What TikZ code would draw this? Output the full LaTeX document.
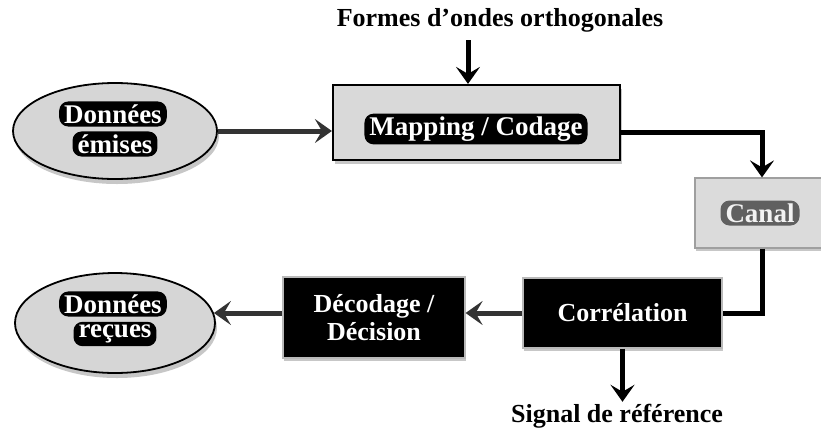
\documentclass[tikz,border=0pt]{standalone}
\usepackage{fontspec}
\setmainfont{Liberation Serif}
\usetikzlibrary{arrows.meta,shadows,shapes.geometric}
\begin{document}
\begin{tikzpicture}[x=1pt,y=-1pt,
  lbl/.style={font=\fontsize{26}{28}\selectfont\bfseries, inner sep=0pt},
  blob/.style={font=\fontsize{27}{28}\selectfont\bfseries, fill=black, text=white,
    rounded corners=9pt, inner xsep=5pt, inner ysep=3pt},
  softblob/.style={blob, fill=gray!75!black, text=gray!10},
  ell/.style={ellipse, draw=black, line width=1.8pt, fill=gray!32,
    drop shadow={shadow xshift=2pt, shadow yshift=-5pt, fill=gray!55, opacity=0.8}},
  mapbox/.style={rectangle, draw=black, line width=2.2pt, fill=gray!30,
    minimum width=287pt, minimum height=75pt,
    drop shadow={shadow xshift=2pt, shadow yshift=-4pt, fill=gray!55, opacity=0.8}},
  canalbox/.style={rectangle, draw=gray!75, line width=1.2pt, fill=gray!28,
    minimum width=134pt, minimum height=70pt,
    drop shadow={shadow xshift=1pt, shadow yshift=-3pt, fill=gray!55, opacity=0.8}},
  darkbox/.style={rectangle, draw=gray!55, line width=1.2pt, fill=black, text=white,
    lbl, align=center,
    drop shadow={shadow xshift=1pt, shadow yshift=-3pt, fill=gray!55, opacity=0.8}},
  tip/.style={-{Stealth[length=17pt,width=24pt,inset=7pt]}},
  greyarrow/.style={tip, draw=gray!40!black, fill=gray!55, line width=5pt},
  blackarrow/.style={tip, draw=black, line width=5pt},
  blackline/.style={draw=black, line width=5pt}]
\useasboundingbox (0,0) rectangle (821,432);

% nodes
\node[lbl] (t) at (500,20) {Formes d’ondes orthogonales};
\node[ell, minimum width=204pt, minimum height=96pt] (e) at (115,131) {};
\node[blob] (e1) at (113,114) {Données};
\node[blob] (e2) at (115,144) {émises};

\node[mapbox] (map) at (476.5,122.5) {};
\node[blob] (mt) at (476,129) {Mapping / Codage};

\node[canalbox] (canal) at (762,213) {};
\node[softblob] (ct) at (760,213) {Canal};

\node[darkbox, minimum width=199pt, minimum height=70pt] (corr) at (622.5,313) {Corrélation};
\node[darkbox, minimum width=182pt, minimum height=81pt] (dec) at (374,317.5) {Décodage /\\Décision};

\node[ell, minimum width=200pt, minimum height=100pt] (r) at (115,323) {};
\node[blob] (r1) at (113,304) {Données};
\node[blob] (r2) at (115,334) {reçues};

\node[lbl] (sig) at (617,416) {Signal de référence};

% connectors
\coordinate (ts) at (468,40);
\draw[blackarrow] (ts) -- (ts |- map.north);
\draw[greyarrow] (e.east) -- (e.east -| map.west);
\draw[blackarrow] ([yshift=-9.5pt]map.east) -| (canal.north);
\draw[blackline] (canal.south) |- (corr.east);
\draw[greyarrow] (corr.west) -- (corr.west -| dec.east);
\draw[greyarrow] (dec.west |- corr.west) -- ([xshift=-2pt]r.east |- corr.west);
\draw[blackarrow] (corr.south) -- ([yshift=2pt]corr.south |- sig.north);
\end{tikzpicture}
\end{document}
